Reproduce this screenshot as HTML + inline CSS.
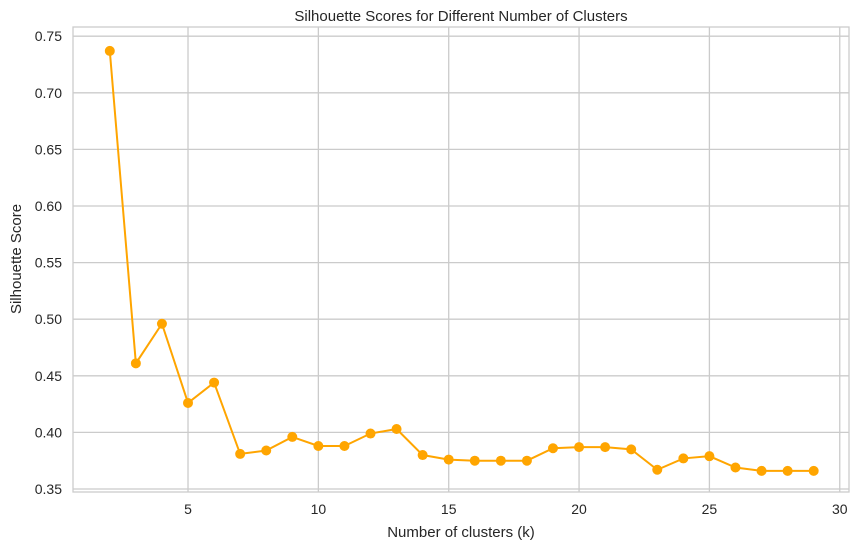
<!DOCTYPE html>
<html><head><meta charset="utf-8"><style>
body{margin:0;background:#fff;font-family:"Liberation Sans",sans-serif;}
svg text{font-family:"Liberation Sans",sans-serif;fill:#262626;}
</style></head><body>
<svg width="858" height="550" xmlns="http://www.w3.org/2000/svg">
<g id="grid"></g><g id="marks"></g><g id="labels"></g>
<rect x="73" y="27" width="776" height="465" fill="none" stroke="#ccc" stroke-width="1.3"/>
<text x="461" y="21" text-anchor="middle" font-size="15">Silhouette Scores for Different Number of Clusters</text>
<text x="461" y="537" text-anchor="middle" font-size="15">Number of clusters (k)</text>
<text x="21" y="259" text-anchor="middle" font-size="15" transform="rotate(-90 21 259)">Silhouette Score</text>
</svg>
<script>
const ks=[2,3,4,5,6,7,8,9,10,11,12,13,14,15,16,17,18,19,20,21,22,23,24,25,26,27,28,29];
const scores=[0.737,0.461,0.496,0.426,0.444,0.381,0.384,0.396,0.388,0.388,0.399,0.403,0.380,0.376,0.375,0.375,0.375,0.386,0.387,0.387,0.385,0.367,0.377,0.379,0.369,0.366,0.366,0.366];
const xTicks=[5,10,15,20,25,30];
const yTicks=[0.35,0.40,0.45,0.50,0.55,0.60,0.65,0.70,0.75];
const X=k=>109.8+(k-2)*26.07, Y=v=>489-(v-0.35)*1132;
const NS="http://www.w3.org/2000/svg";
const mk=(t,a,p)=>{const e=document.createElementNS(NS,t);for(const k in a)e.setAttribute(k,a[k]);p.appendChild(e);return e;};
const g=document.getElementById('grid'),m=document.getElementById('marks'),L=document.getElementById('labels');
xTicks.forEach(t=>{
 const l=mk('line',{x1:X(t),x2:X(t),y1:27,y2:492,stroke:'#cbcbcb','stroke-width':1.3},g);
 
 
 const s=mk('text',{x:X(t),y:514,'text-anchor':'middle','font-size':14},L);s.textContent=t;
 
 
});
yTicks.forEach(t=>{
 const l=mk('line',{x1:73,x2:849,y1:Y(t),y2:Y(t),stroke:'#cbcbcb','stroke-width':1.3},g);
 
 
 const s=mk('text',{x:62,y:Y(t)+5,'text-anchor':'end','font-size':14},L);s.textContent=t.toFixed(2);
 
 
});
const pl=mk('polyline',{points:ks.map((k,i)=>X(k)+','+Y(scores[i])).join(' '),fill:'none',stroke:'#ffa500','stroke-width':2},m);


ks.forEach((k,i)=>{
 const c=mk('circle',{cx:X(k),cy:Y(scores[i]),r:5,fill:'#ffa500'},m);
 
 
});
</script>
</body></html>
